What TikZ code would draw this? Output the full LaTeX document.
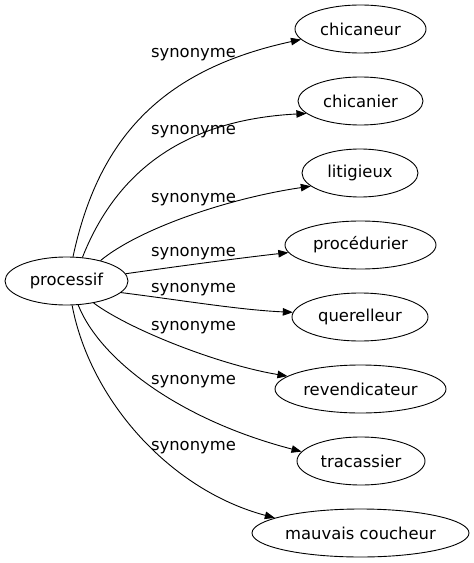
\documentclass[tikz,border=0pt]{standalone}
\usepackage{fontspec}
\setmainfont{DejaVu Sans}
\usetikzlibrary{shapes.geometric,arrows.meta}
\begin{document}
\begin{tikzpicture}[x=1bp,y=-1bp,
  every node/.style={font=\fontsize{16.4bp}{19bp}\selectfont},
  word/.style={draw,ellipse,line width=0.9bp,inner sep=0pt,minimum height=48bp},
  rel/.style={anchor=base},
  edge/.style={line width=0.9bp,-{Triangle[length=10bp,width=7.5bp]}}]
\useasboundingbox (0,0) rectangle (474,563);
\node[word,minimum width=123bp] (p) at (66.5,281) {processif};
\node[word,minimum width=131bp] (t1) at (360.5,29) {chicaneur};
\node[word,minimum width=125bp] (t2) at (360.5,101) {chicanier};
\node[word,minimum width=116bp] (t3) at (360,173) {litigieux};
\node[word,minimum width=151bp] (t4) at (360.5,245) {procédurier};
\node[word,minimum width=136bp] (t5) at (360,317) {querelleur};
\node[word,minimum width=171bp] (t6) at (360.5,389) {revendicateur};
\node[word,minimum width=128bp] (t7) at (361,461) {tracassier};
\node[word,minimum width=217bp] (t8) at (360.5,533) {mauvais coucheur};

\draw[edge] (p.75) .. controls (98,140) and (160,70) .. (t1.190);
\draw[edge] (p.56) .. controls (115,175) and (180,120) .. (t2.193);
\draw[edge] (p.31) .. controls (140,228) and (230,198) .. (t3.195);
\draw[edge] (p.7) .. controls (180,266) and (240,258) .. (t4.186);
\draw[edge] (p.-12.5) .. controls (180,300) and (240,310) .. (t5.176.6);
\draw[edge] (p.-39) .. controls (130,330) and (220,365) .. (t6.170.7);
\draw[edge] (p.-64) .. controls (100,360) and (180,420) .. (t7.171.3);
\draw[edge] (p.-77) .. controls (90,400) and (170,490) .. (t8.170);

\node[rel] (l1) at (193.5,57.5) {synonyme};
\node[rel] (l2) at (193.5,134.5) {synonyme};
\node[rel] (l3) at (193.5,202.5) {synonyme};
\node[rel] (l4) at (193.5,256.5) {synonyme};
\node[rel] (l5) at (193.5,292.5) {synonyme};
\node[rel] (l6) at (193.5,330.5) {synonyme};
\node[rel] (l7) at (193.5,384.5) {synonyme};
\node[rel] (l8) at (193.5,450.5) {synonyme};
\end{tikzpicture}
\end{document}
